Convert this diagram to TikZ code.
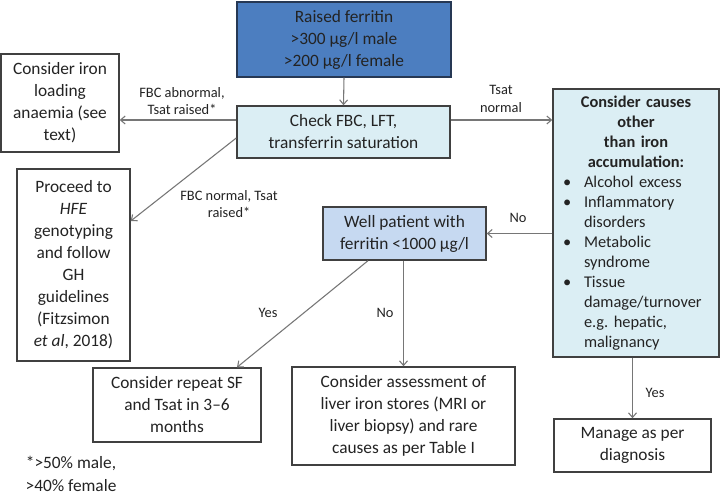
\documentclass[tikz,border=0pt]{standalone}
\usepackage{fontspec}
\setmainfont{Carlito}
\usetikzlibrary{arrows.meta}
\definecolor{txt}{RGB}{35,35,35}
\definecolor{blueA}{RGB}{76,126,192}
\definecolor{blueEdge}{RGB}{38,56,84}
\definecolor{aqua}{RGB}{219,238,244}
\definecolor{paleblue}{RGB}{198,217,241}
\definecolor{edge}{RGB}{64,64,64}
\definecolor{conn}{RGB}{118,118,118}
\newcommand\cbul{\makebox[15.75pt][l]{\textbullet}}
\newcommand\cind{\hspace*{15.75pt}}
\frenchspacing
\begin{document}
\begin{tikzpicture}[x=0.75pt,y=-0.75pt,
  box/.style={draw=edge, line width=1.1pt, align=center, text=txt, inner sep=0pt,
    font=\fontsize{13pt}{16.5pt}\selectfont},
  lbl/.style={text=txt, align=center, inner sep=0pt,
    font=\fontsize{10.8pt}{13pt}\selectfont},
  arr/.style={draw=conn, line width=0.8pt, -{Straight Barb[length=3.5pt,width=6pt]}}]
\useasboundingbox (0,0) rectangle (720,503);
\fill[white] (0,0) rectangle (720,503);

% boxes
\node[box, fill=blueA, draw=blueEdge, minimum width=160.5pt, minimum height=56.25pt] (rf) at (344,39.5)
  {Raised ferritin\\>300 µg/l male\\>200 µg/l female};
\node[box, fill=aqua, minimum width=159.75pt, minimum height=39pt] (chk) at (343.5,132)
  {Check FBC, LFT,\\transferrin saturation};
\node[box, fill=white, minimum width=88.5pt, minimum height=73.5pt] (iron) at (60,103)
  {Consider iron\\loading\\anaemia (see\\text)};
\node[box, fill=white, minimum width=84.75pt, minimum height=144pt] (hfe) at (73.5,265)
  {Proceed to\\\textit{HFE}\\genotyping\\and follow\\GH\\guidelines\\(Fitzsimon\\\textit{et al}, 2018)};
\node[box, fill=aqua, minimum width=124.5pt, minimum height=201pt, text width=109.5pt,
  inner xsep=7.5pt, align=left, font=\fontsize{12.3pt}{15pt}\selectfont] (causes) at (636,223)
  {{\centering\bfseries Consider causes\\other\\than iron\\accumulation:\par}
   \cbul Alcohol excess\\
   \cbul Inflammatory\\
   \cind disorders\\
   \cbul Metabolic\\
   \cind syndrome\\
   \cbul Tissue\\
   \cind damage/turnover\\
   \cind e.g.\ hepatic,\\
   \cind malignancy};
\node[box, fill=paleblue, minimum width=122.25pt, minimum height=39.75pt] (well) at (404.5,233.5)
  {Well patient with\\ferritin <1000 µg/l};
\node[box, fill=white, minimum width=126pt, minimum height=55.5pt] (rep) at (177,405)
  {Consider repeat SF\\and Tsat in 3–6\\months};
\node[box, fill=white, minimum width=167.25pt, minimum height=73.5pt] (liver) at (403.5,416)
  {Consider assessment of\\liver iron stores (MRI or\\liver biopsy) and rare\\causes as per Table I};
\node[box, fill=white, minimum width=117.75pt, minimum height=39.75pt] (mng) at (632.5,445.5)
  {Manage as per\\diagnosis};

% connectors
\draw[arr] (rf.south) -- (chk.north);
\draw[arr] ([yshift=9pt]chk.west) coordinate (p1) -- (p1 -| iron.east);
\draw[arr] ([yshift=9pt]chk.east) coordinate (p2) -- (p2 -| causes.west);
\draw[arr] ([yshift=-4.5pt]chk.west) -- ([yshift=33pt]hfe.east);
\draw[arr] (causes.west |- well.east) -- (well.east);
\draw[arr] ([xshift=-27.4pt]well.south) -- ([xshift=45pt]rep.north);
\draw[arr] (liver.north |- well.south) -- (liver.north);
\draw[arr] (mng.north |- causes.south) -- (mng.north);

% labels
\node[lbl] (l1) at (182,101) {FBC abnormal,\\Tsat raised*};
\node[lbl] (l2) at (501,99) {Tsat\\normal};
\node[lbl] (l3) at (229,204) {FBC normal, Tsat\\raised*};
\node[lbl] (l4) at (518,218) {No};
\node[lbl] (l5) at (268,313) {Yes};
\node[lbl] (l6) at (385,313) {No};
\node[lbl] (l7) at (655,393) {Yes};
\node[text=txt, align=center, inner sep=0pt, font=\fontsize{13pt}{17pt}\selectfont] (fn) at (71,474)
  {*>50\% male,\\>40\% female};
\end{tikzpicture}
\end{document}
